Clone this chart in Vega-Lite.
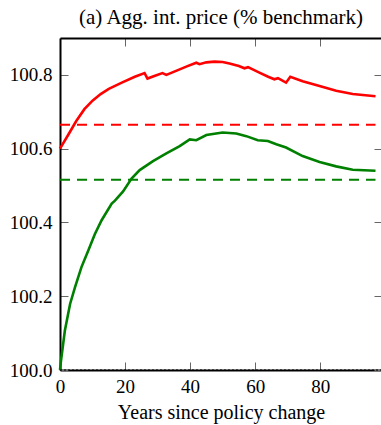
{
  "$schema": "https://vega.github.io/schema/vega-lite/v6.json",
  "width": 322,
  "height": 332,
  "autosize": "none",
  "padding": {"left": 60, "top": 38, "right": 0, "bottom": 55},
  "background": "white",
  "config": {
    "view": {"stroke": null},
    "font": "Liberation Serif",
    "axis": {
      "grid": false,
      "domainColor": "black",
      "domainWidth": 2,
      "tickColor": "#666666",
      "tickWidth": 1,
      "tickSize": -8,
      "labelFont": "Liberation Serif",
      "labelFontSize": 19,
      "labelColor": "black",
      "titleFont": "Liberation Serif",
      "titleFontSize": 20,
      "titleFontWeight": "normal",
      "titleColor": "black"
    }
  },
  "title": {
    "text": "(a) Agg. int. price (% benchmark)",
    "font": "Liberation Serif",
    "fontSize": 21,
    "fontWeight": "normal",
    "color": "black",
    "anchor": "middle",
    "offset": 10
  },
  "datasets": {
    "paths": [
      {"series": "path_1", "x": 0, "v": 100.600},
      {"series": "path_1", "x": 2.5, "v": 100.637},
      {"series": "path_1", "x": 5, "v": 100.675},
      {"series": "path_1", "x": 7.5, "v": 100.707},
      {"series": "path_1", "x": 10, "v": 100.730},
      {"series": "path_1", "x": 12.5, "v": 100.748},
      {"series": "path_1", "x": 15, "v": 100.762},
      {"series": "path_1", "x": 19, "v": 100.779},
      {"series": "path_1", "x": 23, "v": 100.795},
      {"series": "path_1", "x": 26, "v": 100.805},
      {"series": "path_1", "x": 26.9, "v": 100.790},
      {"series": "path_1", "x": 29, "v": 100.797},
      {"series": "path_1", "x": 31.5, "v": 100.805},
      {"series": "path_1", "x": 32.7, "v": 100.800},
      {"series": "path_1", "x": 36.8, "v": 100.815},
      {"series": "path_1", "x": 39, "v": 100.823},
      {"series": "path_1", "x": 41.9, "v": 100.833},
      {"series": "path_1", "x": 42.9, "v": 100.829},
      {"series": "path_1", "x": 45, "v": 100.834},
      {"series": "path_1", "x": 47.5, "v": 100.836},
      {"series": "path_1", "x": 50, "v": 100.835},
      {"series": "path_1", "x": 52.1, "v": 100.831},
      {"series": "path_1", "x": 55, "v": 100.824},
      {"series": "path_1", "x": 56.7, "v": 100.818},
      {"series": "path_1", "x": 57.8, "v": 100.821},
      {"series": "path_1", "x": 61.3, "v": 100.806},
      {"series": "path_1", "x": 64, "v": 100.795},
      {"series": "path_1", "x": 65.9, "v": 100.788},
      {"series": "path_1", "x": 67, "v": 100.791},
      {"series": "path_1", "x": 69.5, "v": 100.779},
      {"series": "path_1", "x": 70.8, "v": 100.795},
      {"series": "path_1", "x": 74.6, "v": 100.783},
      {"series": "path_1", "x": 79.8, "v": 100.770},
      {"series": "path_1", "x": 84.9, "v": 100.757},
      {"series": "path_1", "x": 90, "v": 100.748},
      {"series": "path_1", "x": 97, "v": 100.742},
      {"series": "path_2", "x": 0, "v": 100.000},
      {"series": "path_2", "x": 0.3, "v": 100.025},
      {"series": "path_2", "x": 1.5, "v": 100.107},
      {"series": "path_2", "x": 3.1, "v": 100.179},
      {"series": "path_2", "x": 4.6, "v": 100.224},
      {"series": "path_2", "x": 6.6, "v": 100.279},
      {"series": "path_2", "x": 8.7, "v": 100.324},
      {"series": "path_2", "x": 10.7, "v": 100.368},
      {"series": "path_2", "x": 12.8, "v": 100.406},
      {"series": "path_2", "x": 15.9, "v": 100.451},
      {"series": "path_2", "x": 16.9, "v": 100.459},
      {"series": "path_2", "x": 19.4, "v": 100.484},
      {"series": "path_2", "x": 22, "v": 100.519},
      {"series": "path_2", "x": 24.5, "v": 100.542},
      {"series": "path_2", "x": 28.6, "v": 100.566},
      {"series": "path_2", "x": 32.7, "v": 100.587},
      {"series": "path_2", "x": 36.8, "v": 100.607},
      {"series": "path_2", "x": 39.9, "v": 100.625},
      {"series": "path_2", "x": 41.9, "v": 100.623},
      {"series": "path_2", "x": 45, "v": 100.637},
      {"series": "path_2", "x": 50, "v": 100.644},
      {"series": "path_2", "x": 54.2, "v": 100.641},
      {"series": "path_2", "x": 57.3, "v": 100.634},
      {"series": "path_2", "x": 60.8, "v": 100.623},
      {"series": "path_2", "x": 63.9, "v": 100.621},
      {"series": "path_2", "x": 66.5, "v": 100.612},
      {"series": "path_2", "x": 69.5, "v": 100.603},
      {"series": "path_2", "x": 74.6, "v": 100.580},
      {"series": "path_2", "x": 79.8, "v": 100.564},
      {"series": "path_2", "x": 84.9, "v": 100.552},
      {"series": "path_2", "x": 90, "v": 100.543},
      {"series": "path_2", "x": 97, "v": 100.540}
    ],
    "steady": [
      {"series": "steady_1", "x": 0, "v": 100.665},
      {"series": "steady_1", "x": 97, "v": 100.665},
      {"series": "steady_2", "x": 0, "v": 100.516},
      {"series": "steady_2", "x": 97, "v": 100.516}
    ],
    "bench": [
      {"series": "benchmark", "x": 0, "v": 100.0},
      {"series": "benchmark", "x": 99, "v": 100.0}
    ]
  },
  "layer": [
    {
      "data": {"name": "steady"},
      "mark": {"type": "line", "strokeWidth": 2, "strokeDash": [10, 7]},
      "encoding": {
        "x": {"field": "x", "type": "quantitative",
              "scale": {"domain": [0, 99], "nice": false, "zero": false},
              "axis": {"orient": "top", "values": [0, 20, 40, 60, 80], "labels": false, "title": null}},
        "y": {"field": "v", "type": "quantitative",
              "scale": {"domain": [100, 100.9], "nice": false, "zero": false},
              "axis": {"orient": "right", "values": [100, 100.2, 100.4, 100.6, 100.8], "labels": false, "title": null}},
        "color": {"field": "series", "type": "nominal", "legend": null,
                  "scale": {"domain": ["path_1", "path_2", "steady_1", "steady_2", "benchmark"],
                            "range": ["#ff0000", "#008000", "#ff0000", "#008000", "#000000"]}},
        "detail": {"field": "series"}
      }
    },
    {
      "data": {"name": "paths"},
      "mark": {"type": "line", "strokeWidth": 2.6},
      "encoding": {
        "x": {"field": "x", "type": "quantitative",
              "scale": {"domain": [0, 99], "nice": false, "zero": false},
              "axis": {"orient": "bottom", "values": [0, 20, 40, 60, 80], "labelPadding": 15, "labelFlush": false, "title": "Years since policy change", "titlePadding": 6}},
        "y": {"field": "v", "type": "quantitative",
              "scale": {"domain": [100, 100.9], "nice": false, "zero": false},
              "axis": {"orient": "left", "values": [100, 100.2, 100.4, 100.6, 100.8], "format": ".1f", "labelPadding": 16, "title": null}},
        "color": {"field": "series", "type": "nominal", "legend": null},
        "detail": {"field": "series"}
      }
    },
    {
      "data": {"name": "bench"},
      "mark": {"type": "line", "strokeWidth": 1, "strokeDash": [2, 2]},
      "encoding": {
        "x": {"field": "x", "type": "quantitative", "axis": null},
        "y": {"field": "v", "type": "quantitative", "axis": null},
        "color": {"field": "series", "type": "nominal", "legend": null}
      }
    }
  ],
  "resolve": {"axis": {"x": "independent", "y": "independent"}}
}
